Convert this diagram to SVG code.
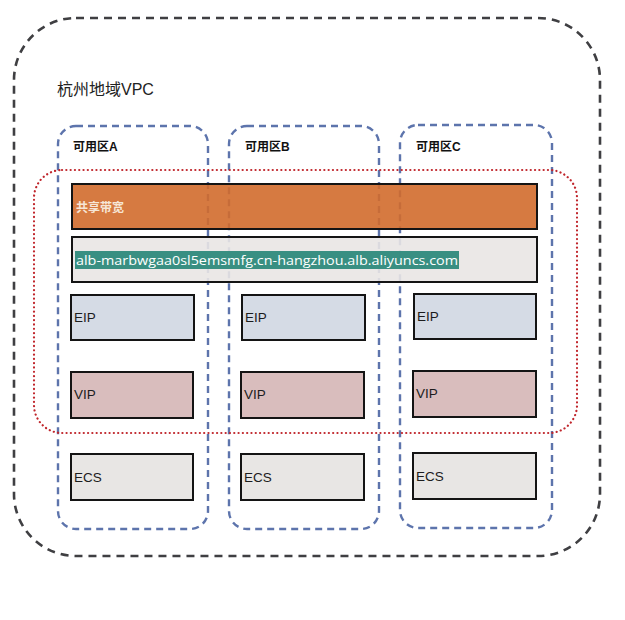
<svg xmlns="http://www.w3.org/2000/svg" width="625" height="620" viewBox="0 0 625 620">
<style>
.vpc{fill:none;stroke:#3f3f42;stroke-width:2.6;stroke-dasharray:8 6}
.zone{fill:none;stroke:#4b65a3;stroke-width:2.4;stroke-dasharray:7 5;opacity:0.9}
.bw{fill:none;stroke:#c0262c;stroke-width:2.2;stroke-dasharray:0.1 4.2;stroke-linecap:round}
.box{stroke:#141414;stroke-width:2}
.eip{fill:#d5dbe5}
.vip{fill:#d9bdbd}
.ecs{fill:#e8e6e4}
.lbl{font-family:"Liberation Sans","Noto Sans CJK SC",sans-serif;font-size:13.5px;fill:#1c1c1c}
.zl{font-family:"Liberation Sans","Noto Sans CJK SC",sans-serif;font-size:12px;font-weight:bold;fill:#111}
</style>
<rect x="0" y="0" width="625" height="620" fill="#ffffff"/>
<g id="vpc">
<rect class="vpc" x="14" y="18" width="586" height="538" rx="62" ry="62"/>
<text x="57" y="95" font-family="Liberation Sans,'Noto Sans CJK SC',sans-serif" font-size="16" fill="#222">杭州地域VPC</text>
</g>
<g id="zone-a">
<rect class="zone" x="58" y="126" width="150" height="403" rx="18" ry="18"/>
<text class="zl" x="73" y="151">可用区A</text>
</g>
<g id="zone-b">
<rect class="zone" x="229" y="126" width="150" height="403" rx="18" ry="18"/>
<text class="zl" x="245" y="151">可用区B</text>
</g>
<g id="zone-c">
<rect class="zone" x="400" y="125" width="152" height="403" rx="18" ry="18"/>
<text class="zl" x="416" y="151">可用区C</text>
</g>
<g id="bandwidth-scope">
<rect class="bw" x="34" y="170" width="543" height="263" rx="28" ry="28"/>
</g>
<g id="shared-bandwidth">
<rect class="box" x="72" y="184" width="465" height="45" fill="#d16c2c" fill-opacity="0.9"/>
<text x="76" y="212" font-family="Liberation Sans,'Noto Sans CJK SC',sans-serif" font-size="12" font-weight="bold" fill="#f6e6d6">共享带宽</text>
</g>
<g id="alb-domain">
<rect class="box" x="72" y="237" width="465" height="45" fill="#e9e6e4" fill-opacity="0.9"/>
<rect x="75" y="251" width="384" height="18" fill="#2f8a7c" fill-opacity="0.95"/>
<text x="76" y="265" font-family="'Open Sans','Liberation Sans',sans-serif" font-size="13.2" fill="#ffffff" textLength="382" lengthAdjust="spacingAndGlyphs">alb-marbwgaa0sl5emsmfg.cn-hangzhou.alb.aliyuncs.com</text>
</g>
<g id="eip-a"><rect class="box eip" x="71" y="295" width="123" height="45"/><text class="lbl" x="74" y="322">EIP</text></g>
<g id="eip-b"><rect class="box eip" x="242" y="295" width="123" height="45"/><text class="lbl" x="245" y="322">EIP</text></g>
<g id="eip-c"><rect class="box eip" x="414" y="294" width="122" height="45"/><text class="lbl" x="417" y="321">EIP</text></g>
<g id="vip-a"><rect class="box vip" x="71" y="372" width="122" height="46"/><text class="lbl" x="74" y="399">VIP</text></g>
<g id="vip-b"><rect class="box vip" x="241" y="372" width="123" height="46"/><text class="lbl" x="244" y="399">VIP</text></g>
<g id="vip-c"><rect class="box vip" x="413" y="371" width="123" height="46"/><text class="lbl" x="416" y="398">VIP</text></g>
<g id="ecs-a"><rect class="box ecs" x="71" y="454" width="122" height="46"/><text class="lbl" x="74" y="482">ECS</text></g>
<g id="ecs-b"><rect class="box ecs" x="241" y="454" width="123" height="46"/><text class="lbl" x="244" y="482">ECS</text></g>
<g id="ecs-c"><rect class="box ecs" x="413" y="453" width="123" height="46"/><text class="lbl" x="416" y="481">ECS</text></g>
<g id="connectors"></g>
</svg>
